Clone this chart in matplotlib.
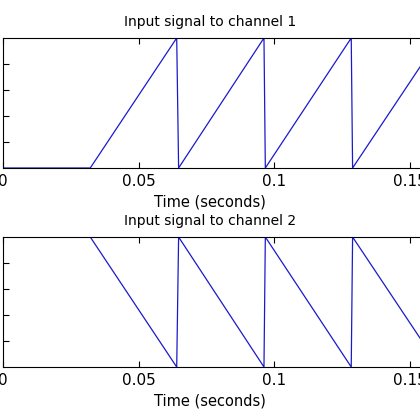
import matplotlib
matplotlib.use("Agg")
import matplotlib.pyplot as plt

t = [0.0, 0.0322, 0.0641, 0.0648, 0.0963, 0.0968, 0.1285, 0.1290, 0.1610]
ch1 = [0.0, 0.0, 1.0, 0.0, 1.0, 0.0, 1.0, 0.0, 1.0]
ch2 = [1.0 - v for v in ch1]
ticks_x = [0, 0.05, 0.1, 0.15, 0.2]
tick_labels = ["0", "0.05", "0.1", "0.15", "0.2"]

fig = plt.figure(figsize=(4.2, 4.2), dpi=100)
W = 420.0
span = 0.2 / 0.05 * 135.5  # pixels for 0..0.2

def make(ax_top, y, title):
    ax = fig.add_axes([3 / W, 1 - (ax_top + 130) / W, span / W, 130 / W])
    ax.plot(t, y, color="#1a1acc", lw=0.9)
    ax.set_xlim(0, 0.2)
    ax.set_ylim(0, 1)
    ax.set_xticks(ticks_x)
    ax.set_xticklabels(tick_labels, fontsize=11)
    ax.set_yticks([0.2, 0.4, 0.6, 0.8])
    ax.set_yticklabels([])
    ax.tick_params(direction="in", length=4, top=True, right=True, pad=4)
    fig.text(210 / W, 1 - (ax_top + 164) / W, "Time (seconds)", ha="center",
             va="center", fontsize=10.5)
    fig.text(210 / W, 1 - (ax_top - 16) / W, title, ha="center",
             va="center", fontsize=10)
    return ax

make(38, ch1, "Input signal to channel 1")
make(237, ch2, "Input signal to channel 2")

fig.savefig("out.png", dpi=100)
